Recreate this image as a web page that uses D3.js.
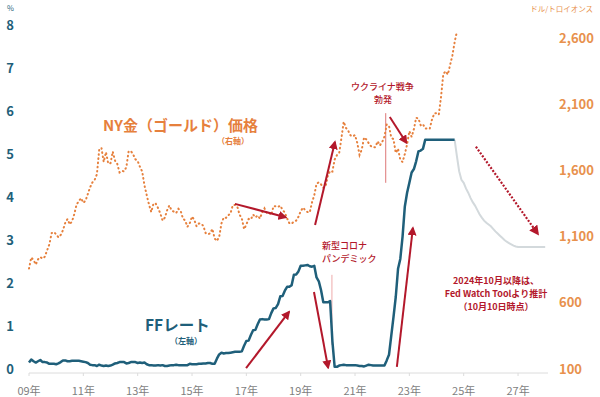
<!DOCTYPE html>
<html>
<head>
<meta charset="utf-8">
<script src="https://cdn.jsdelivr.net/npm/d3@7"></script>
<style>
  body { margin: 0; background: #fff; }
  svg { display: block; font-family: "Noto Sans CJK JP", "Noto Sans", sans-serif; }
</style>
</head>
<body>
<svg id="chart" width="600" height="397"></svg>
<script>
/*
 * NY gold vs FF rate, monthly, 2009-01 ..
 */

var startYear = 2009;

// NY gold, USD/troy oz, monthly average from 2009-01 to 2024-10
var goldPrice = [
  859, 943, 924, 890, 929, 946, 934, 949, 997, 1043, 1127, 1135,
  1118, 1095, 1113, 1149, 1205, 1233, 1193, 1216, 1271, 1342, 1370, 1391,
  1356, 1373, 1424, 1474, 1510, 1529, 1573, 1756, 1772, 1665, 1739, 1652,
  1656, 1743, 1674, 1650, 1586, 1597, 1594, 1626, 1745, 1747, 1722, 1685,
  1672, 1628, 1593, 1488, 1414, 1343, 1286, 1352, 1349, 1317, 1276, 1222,
  1244, 1300, 1336, 1298, 1289, 1279, 1311, 1295, 1237, 1222, 1175, 1201,
  1252, 1227, 1179, 1199, 1199, 1182, 1128, 1118, 1125, 1159, 1086, 1068,
  1098, 1200, 1245, 1242, 1261, 1276, 1337, 1340, 1327, 1267, 1238, 1157,
  1192, 1234, 1231, 1267, 1246, 1260, 1237, 1283, 1314, 1280, 1282, 1264,
  1331, 1331, 1325, 1335, 1303, 1282, 1238, 1202, 1198, 1215, 1221, 1250,
  1292, 1320, 1301, 1286, 1284, 1359, 1413, 1500, 1511, 1495, 1470, 1479,
  1561, 1597, 1592, 1683, 1716, 1732, 1847, 1969, 1922, 1900, 1866, 1858,
  1868, 1808, 1718, 1760, 1850, 1835, 1808, 1785, 1775, 1777, 1821, 1790,
  1816, 1856, 1948, 1937, 1849, 1837, 1733, 1765, 1681, 1664, 1725, 1798,
  1898, 1855, 1913, 1999, 1993, 1943, 1951, 1919, 1917, 1916, 1986, 2031,
  2034, 2023, 2159, 2330, 2350, 2326, 2398, 2470, 2571, 2650
];

// effective FF rate, %, monthly from 2009-01 to 2024-09
var ffRate = [
  0.15, 0.22, 0.18, 0.15, 0.18, 0.21, 0.16, 0.16, 0.15, 0.12, 0.12, 0.12,
  0.11, 0.13, 0.16, 0.20, 0.20, 0.18, 0.18, 0.19, 0.19, 0.19, 0.19, 0.18,
  0.17, 0.16, 0.14, 0.10, 0.09, 0.09, 0.07, 0.10, 0.08, 0.07, 0.08, 0.07,
  0.08, 0.10, 0.13, 0.14, 0.16, 0.16, 0.16, 0.13, 0.14, 0.16, 0.16, 0.16,
  0.14, 0.15, 0.14, 0.15, 0.11, 0.09, 0.09, 0.08, 0.08, 0.09, 0.08, 0.09,
  0.07, 0.07, 0.08, 0.09, 0.09, 0.10, 0.09, 0.09, 0.09, 0.09, 0.09, 0.12,
  0.11, 0.11, 0.11, 0.12, 0.12, 0.13, 0.13, 0.14, 0.14, 0.12, 0.12, 0.24,
  0.34, 0.38, 0.36, 0.37, 0.37, 0.38, 0.39, 0.40, 0.40, 0.40, 0.41, 0.54,
  0.65, 0.66, 0.79, 0.90, 0.91, 1.04, 1.15, 1.16, 1.15, 1.15, 1.16, 1.30,
  1.41, 1.42, 1.51, 1.69, 1.70, 1.82, 1.91, 1.91, 1.95, 2.19, 2.20, 2.27,
  2.40, 2.40, 2.41, 2.42, 2.39, 2.38, 2.40, 2.13, 2.04, 1.83, 1.55, 1.55,
  1.55, 1.58, 0.65, 0.05, 0.05, 0.08, 0.09, 0.10, 0.09, 0.09, 0.09, 0.09,
  0.09, 0.08, 0.07, 0.07, 0.06, 0.08, 0.10, 0.09, 0.08, 0.08, 0.08, 0.08,
  0.08, 0.08, 0.20, 0.33, 0.77, 1.21, 1.68, 2.33, 2.56, 3.08, 3.78, 4.10,
  4.33, 4.57, 4.65, 4.83, 5.06, 5.08, 5.12, 5.33, 5.33, 5.33, 5.33, 5.33,
  5.33, 5.33, 5.33, 5.33, 5.33, 5.33, 5.33, 5.33, 5.33
];

// FedWatch based path, %, monthly from 2024-09 to 2028-01
var ffForecastStart = 2024 + 8 / 12;
var ffForecast = [
  5.33, 4.95, 4.6, 4.4,
  4.33, 4.2, 4.1, 3.98, 3.88, 3.8, 3.7, 3.6, 3.52, 3.45, 3.4, 3.36,
  3.32, 3.26, 3.2, 3.15, 3.1, 3.05, 3.0, 2.96, 2.93, 2.9, 2.87, 2.85,
  2.84, 2.84, 2.84, 2.84, 2.84, 2.84, 2.84, 2.84, 2.84, 2.84, 2.84, 2.84,
  2.84
];

var leftTicks = [0, 1, 2, 3, 4, 5, 6, 7, 8];
var rightTicks = [100, 600, 1100, 1600, 2100, 2600];
var yearTicks = [2009, 2011, 2013, 2015, 2017, 2019, 2021, 2023, 2025, 2027];

// annotation arrows in (year, % on left axis)
var arrows = [
  { from: [2016.58, 3.84], to: [2018.45, 3.53], dotted: false },
  { from: [2019.53, 3.35], to: [2020.26, 5.28], dotted: false },
  { from: [2022.28, 5.86], to: [2022.89, 5.26], dotted: false },
  { from: [2016.99, 0.02], to: [2018.57, 1.33], dotted: false },
  { from: [2019.49, 1.79], to: [2020.01, 0.03], dotted: false },
  { from: [2022.54, 0.05], to: [2023.13, 3.28], dotted: false },
  { from: [2025.45, 5.17], to: [2027.73, 3.14], dotted: true }
];

// event marker lines
var events = [
  { year: 2020.15, top: 2.19, bottom: 0.56, color: "#eeaaaa" },
  { year: 2022.13, top: 5.95, bottom: 4.33, color: "#dd7777" }
];

var teal = "#1f5f7a", orange = "#e6803d", red = "#b3182b";

var svg = d3.select("#chart");

var x = d3.scaleLinear().domain([2009, 2028]).range([29, 545.2]);
var yL = d3.scaleLinear().domain([0, 8]).range([369, 25]);
var yR = d3.scaleLinear().domain([100, 2700]).range([369, 25]);

function monthly(arr, start) {
  return arr.map(function(v, i) { return { t: start + i / 12, v: v }; });
}

// x axis
svg.append("line")
  .attr("x1", x(2009)).attr("x2", 548)
  .attr("y1", 373).attr("y2", 373)
  .attr("stroke", "#dcdcdc").attr("stroke-width", 1);

svg.selectAll(".xtick").data(yearTicks).enter().append("line")
  .attr("x1", function(d) { return x(d); })
  .attr("x2", function(d) { return x(d); })
  .attr("y1", 373).attr("y2", 376)
  .attr("stroke", "#dcdcdc");

svg.selectAll(".xlab").data(yearTicks).enter().append("text")
  .attr("x", function(d) { return x(d); })
  .attr("y", 395)
  .attr("text-anchor", "middle")
  .attr("font-size", 11)
  .attr("fill", "#7f7f7f")
  .text(function(d) { return String(d).slice(2) + "年"; });

// left axis labels
svg.selectAll(".ylab").data(leftTicks).enter().append("text")
  .attr("x", 10)
  .attr("y", function(d) { return yL(d) + 4.5; })
  .attr("text-anchor", "middle")
  .attr("font-size", 13).attr("font-weight", "bold")
  .attr("fill", teal)
  .text(function(d) { return d; });

svg.append("text").attr("x", 7).attr("y", 11)
  .attr("font-size", 7.5).attr("fill", teal).text("%");

// right axis labels
svg.selectAll(".rlab").data(rightTicks).enter().append("text")
  .attr("x", 559)
  .attr("y", function(d) { return yR(d) + 4.5; })
  .attr("font-size", 13).attr("font-weight", "bold")
  .attr("fill", "#e8914d")
  .text(d3.format(","));

svg.append("text").attr("x", 593).attr("y", 12)
  .attr("text-anchor", "end")
  .attr("font-size", 7.5).attr("fill", "#e8914d").text("ドル/トロイオンス");

// event lines
svg.selectAll(".ev").data(events).enter().append("line")
  .attr("x1", function(d) { return x(d.year); })
  .attr("x2", function(d) { return x(d.year); })
  .attr("y1", function(d) { return yL(d.top); })
  .attr("y2", function(d) { return yL(d.bottom); })
  .attr("stroke", function(d) { return d.color; })
  .attr("stroke-width", 1);

// gold line (dotted)
var goldLine = d3.line().x(function(d) { return x(d.t); }).y(function(d) { return yR(d.v); });
svg.append("path")
  .datum(monthly(goldPrice, startYear))
  .attr("d", goldLine)
  .attr("fill", "none")
  .attr("stroke", orange)
  .attr("stroke-width", 2)
  .attr("stroke-linecap", "round")
  .attr("stroke-dasharray", "0.6 3.6");

// ff rate
var ffLine = d3.line().x(function(d) { return x(d.t); }).y(function(d) { return yL(d.v); });
svg.append("path")
  .datum(monthly(ffForecast, ffForecastStart))
  .attr("d", ffLine)
  .attr("fill", "none")
  .attr("stroke", "#d3d9dc")
  .attr("stroke-width", 2);

svg.append("path")
  .datum(monthly(ffRate, startYear))
  .attr("d", ffLine)
  .attr("fill", "none")
  .attr("stroke", teal)
  .attr("stroke-width", 2.5)
  .attr("stroke-linejoin", "round");

// arrows
var defs = svg.append("defs");
defs.append("marker")
  .attr("id", "head")
  .attr("viewBox", "0 0 10 10")
  .attr("refX", 8).attr("refY", 5)
  .attr("markerWidth", 4.5).attr("markerHeight", 4.5)
  .attr("markerUnits", "strokeWidth")
  .attr("orient", "auto")
  .append("path").attr("d", "M0,0 L10,5 L0,10 Z").attr("fill", red);

svg.selectAll(".arrow").data(arrows).enter().append("line")
  .attr("x1", function(d) { return x(d.from[0]); })
  .attr("y1", function(d) { return yL(d.from[1]); })
  .attr("x2", function(d) { return x(d.to[0]); })
  .attr("y2", function(d) { return yL(d.to[1]); })
  .attr("stroke", red)
  .attr("stroke-width", function(d) { return d.dotted ? 2.2 : 2; })
  .attr("stroke-dasharray", function(d) { return d.dotted ? "2 1.6" : null; })
  .attr("marker-end", "url(#head)");

// labels
function label(txt, px, py, size, color, weight, anchor) {
  svg.append("text")
    .attr("x", px).attr("y", py)
    .attr("font-size", size)
    .attr("font-weight", weight || "normal")
    .attr("text-anchor", anchor || "start")
    .attr("fill", color)
    .text(txt);
}

label("NY金（ゴールド）価格", 103, 131, 15, orange, "bold");
label("（右軸）", 217, 144, 8, orange, "bold");
label("FFレート", 145, 331, 15.5, teal, "bold");
label("（左軸）", 170, 344, 8, teal, "bold");

label("新型コロナ", 322, 249, 9, red, "500");
label("パンデミック", 322, 262, 9, red, "500");
label("ウクライナ戦争", 351, 89.5, 9, red, "500");
label("勃発", 374, 102.5, 9, red, "500");

label("2024年10月以降は、", 496, 284, 9, red, "bold", "middle");
label("Fed Watch Toolより推計", 496, 297, 9, red, "bold", "middle");
label("（10月10日時点）", 496, 310, 9, red, "bold", "middle");
</script>
</body>
</html>
